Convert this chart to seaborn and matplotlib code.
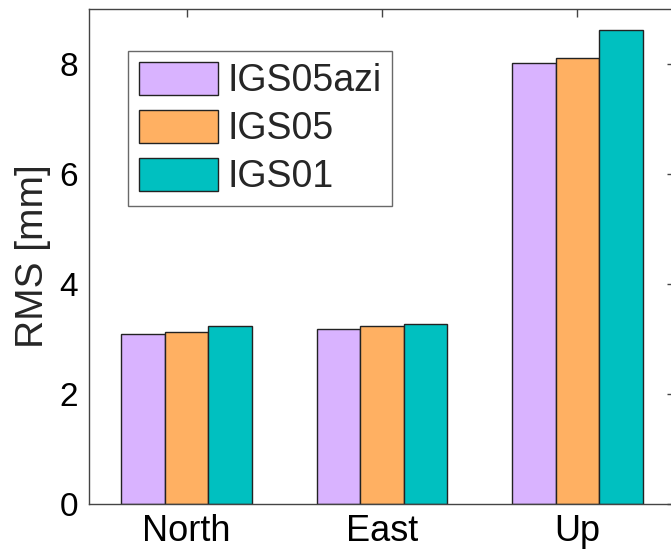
import matplotlib
matplotlib.use("Agg")
import matplotlib.pyplot as plt
import seaborn as sns
import pandas as pd

components = ["North", "East", "Up"]
models = ["IGS05azi", "IGS05", "IGS01"]
rms_igs05azi = [3.10, 3.19, 8.02]
rms_igs05 = [3.12, 3.24, 8.11]
rms_igs01 = [3.24, 3.28, 8.62]
colors = ["#D9B3FF", "#FFB062", "#00C0C0"]

rows = []
for model, vals in zip(models, [rms_igs05azi, rms_igs05, rms_igs01]):
    for comp, v in zip(components, vals):
        rows.append({"component": comp, "model": model, "rms": v})
df = pd.DataFrame(rows)

sns.set_style("white")
plt.rcParams["font.family"] = ["Liberation Sans", "DejaVu Sans"]

fig = plt.figure(figsize=(6.71, 5.51), dpi=100)
ax = fig.add_axes([89 / 671, 1 - 504 / 551, 586 / 671, 495 / 551])

sns.barplot(data=df, x="component", y="rms", hue="model", order=components,
            hue_order=models, palette=colors, width=0.67, edgecolor="#222222",
            linewidth=1.0, saturation=1, errorbar=None, ax=ax)

ax.set_xlim(-0.5, 2.5)
ax.set_ylim(0, 9)
ax.set_yticks([0, 2, 4, 6, 8])
ax.set_xlabel("")
ax.set_ylabel("RMS [mm]", fontsize=28, labelpad=6)
ax.tick_params(axis="both", direction="in", length=6, width=1,
               top=True, right=True, colors="#444444", labelcolor="black", pad=8)
ax.tick_params(axis="y", labelsize=24)
ax.tick_params(axis="x", labelsize=26, pad=7)
for s in ax.spines.values():
    s.set_color("#444444")
    s.set_linewidth(1.0)

leg = ax.legend(loc="upper left", bbox_to_anchor=(0.0666, 0.915), borderaxespad=0,
                fontsize=27, frameon=True, fancybox=False, edgecolor="#444444",
                handlelength=2.13, handleheight=1.0, labelspacing=0.28,
                handletextpad=0.24, borderpad=0.28)
leg.get_frame().set_linewidth(1.0)

fig.savefig("out.png", dpi=100)
